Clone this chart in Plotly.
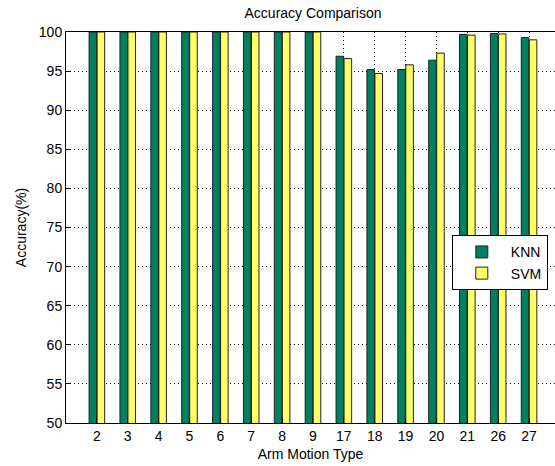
import plotly.graph_objects as go

categories = ["2", "3", "4", "5", "6", "7", "8", "9", "17", "18", "19", "20", "21", "26", "27"]
knn = [100, 100, 100, 100, 100, 100, 100, 100, 96.9, 95.2, 95.2, 96.4, 99.7, 99.8, 99.3]
svm = [100, 100, 100, 100, 100, 100, 100, 100, 96.6, 94.7, 95.8, 97.3, 99.6, 99.75, 99.0]
yticks = [50, 55, 60, 65, 70, 75, 80, 85, 90, 95, 100]

FONT = "Liberation Sans, Arial, Helvetica, sans-serif"

fig = go.Figure()
fig.add_trace(go.Bar(x=categories, y=knn, name="KNN",
                     marker=dict(color="rgb(0,128,96)", line=dict(color="#222", width=1))))
fig.add_trace(go.Bar(x=categories, y=svm, name="SVM",
                     marker=dict(color="rgb(255,255,102)", line=dict(color="#222", width=1))))

fig.update_layout(
    width=555, height=466,
    margin=dict(l=66, r=0, t=32, b=43),
    paper_bgcolor="white", plot_bgcolor="white",
    font=dict(family=FONT, size=14, color="black"),
    barmode="group", bargap=0.48, bargroupgap=0.06,
    title=dict(text="Accuracy Comparison", xref="container", x=313/555, xanchor="center",
               yref="container", y=1 - 13/466, yanchor="middle",
               font=dict(family=FONT, size=14, color="black")),
    legend=dict(x=0.789, y=0.48, xanchor="left", yanchor="top",
                bgcolor="white", bordercolor="black", borderwidth=1,
                font=dict(family=FONT, size=14), itemwidth=48,
                tracegroupgap=0),
    showlegend=True,
)
fig.update_xaxes(
    type="category", range=[-1, 14.84],
    showline=True, linecolor="black", linewidth=1, mirror=True,
    showgrid=True, gridcolor="black", gridwidth=1, griddash="1px,3px",
    ticks="inside", ticklen=5, tickcolor="black",
    title=dict(text="Arm Motion Type", standoff=6, font=dict(family=FONT, size=14)),
    tickfont=dict(family=FONT, size=14),
)
fig.update_yaxes(
    range=[50, 100], tickvals=yticks,
    showline=True, linecolor="black", linewidth=1, mirror=False,
    showgrid=True, gridcolor="black", gridwidth=1, griddash="1px,3px",
    ticks="inside", ticklen=5, tickcolor="black",
    zeroline=False,
    title=dict(text="Accuracy(%)", standoff=8, font=dict(family=FONT, size=14)),
    tickfont=dict(family=FONT, size=14),
)

fig.write_html("out.html")
